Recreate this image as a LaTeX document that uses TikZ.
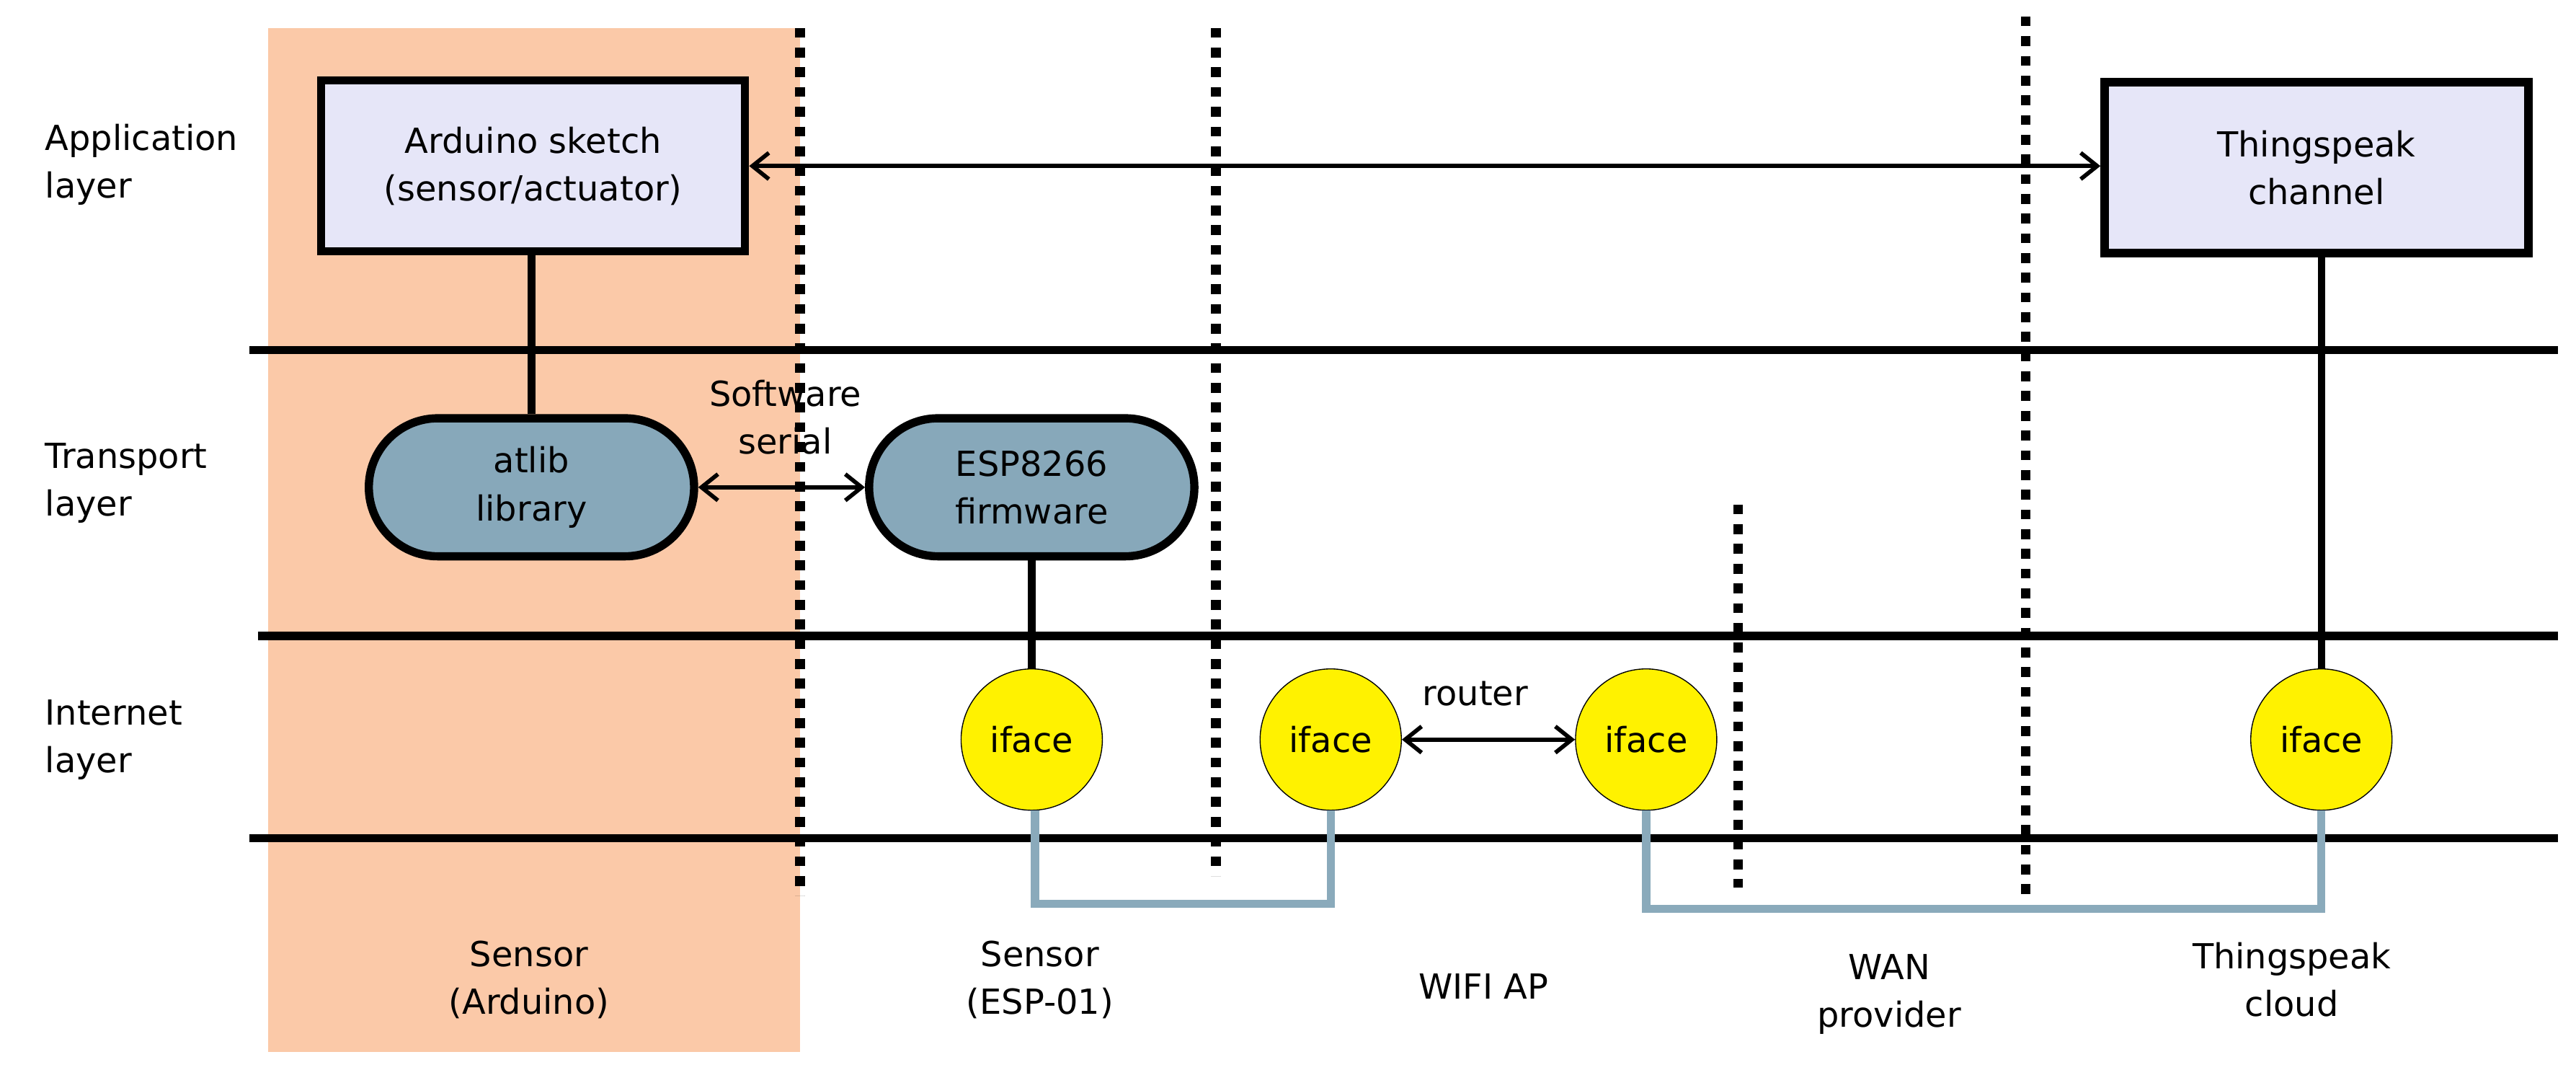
\documentclass[tikz,border=0pt]{standalone}
\usepackage{fontspec}
\setmainfont{DejaVu Sans}
\usetikzlibrary{arrows.meta}
\definecolor{peach}{HTML}{FBC9A8}
\definecolor{lav}{HTML}{E6E6F8}
\definecolor{pill}{HTML}{87A8BA}
\definecolor{wire}{HTML}{8AAABB}
\begin{document}
\begin{tikzpicture}[x=1pt,y=-1pt,font=\fontsize{21}{29}\selectfont,
  box/.style={draw,line width=5pt,fill=lav,minimum width=258pt,minimum height=104pt,align=center},
  pl/.style={draw,line width=5pt,fill=pill,rounded corners=42pt,minimum width=198pt,minimum height=84pt,align=center},
  ifc/.style={circle,draw,line width=0.6pt,fill=yellow,minimum size=86pt,inner sep=0pt},
  hl/.style={line width=5pt},
  dl/.style={line width=6pt,dash pattern=on 6pt off 6pt},
  con/.style={line width=4.5pt},
  ar/.style={line width=2.5pt,{Straight Barb[length=10pt,width=16pt]}-{Straight Barb[length=10pt,width=16pt]}},
  bw/.style={line width=5pt,color=wire},
  lbl/.style={align=center}]
\useasboundingbox (0,0) rectangle (1568,651);
\fill[peach] (163,17) rectangle (487,640);
\draw[hl] (152,213) -- (1557,213);
\draw[hl] (157,387) -- (1557,387);
\draw[hl] (152,510) -- (1557,510);
\draw[dl] (487,17) -- (487,545);
\draw[dl] (740,17) -- (740,533);
\draw[dl] (1058,307) -- (1058,540);
\draw[dl] (1233,10) -- (1233,545);
\node[box] (ard) at (324.5,101) {Arduino sketch\\(sensor/actuator)};
\node[box] (ts) at (1410,102) {Thingspeak\\channel};
\node[pl] (at) at (323.5,296.5) {atlib\\library};
\node[pl] (esp) at (628,296.5) {ESP8266\\firmware};
\node[ifc] (i1) at (628,450) {iface};
\node[ifc] (i2) at (810,450) {iface};
\node[ifc] (i3) at (1002,450) {iface};
\node[ifc] (i4) at (1413,450) {iface};
\draw[con] (ard.south -| at) -- (at.north);
\draw[con] (esp) -- (i1);
\draw[con] (ts.south -| i4) -- (i4);
\draw[ar] (ard.east) -- (ard.east -| ts.west);
\draw[ar] (at.east) -- (esp.west);
\draw[ar] (i2.east) -- (i3.west);
\coordinate (c1) at (630,550); \coordinate (c2) at (810,550);
\coordinate (c3) at (1002,553); \coordinate (c4) at (1413,553);
\draw[bw] (i1.south -| c1) -- (c1) -- (c2) -- (i2.south);
\draw[bw] (i3.south) -- (c3) -- (c4) -- (i4.south);
\node[anchor=west,align=left] (l1) at (24,100) {Application\\layer};
\node[anchor=west,align=left] (l2) at (24,294) {Transport\\layer};
\node[anchor=west,align=left] (l3) at (24,450) {Internet\\layer};
\node[lbl] (ss) at (478,254) {Software\\serial};
\node[lbl] (rt) at (898,422) {router};
\node[lbl] (b1) at (322,596) {Sensor\\(Arduino)};
\node[lbl] (b2) at (633,596) {Sensor\\(ESP-01)};
\node[lbl] (b3) at (903,600) {WIFI AP};
\node[lbl] (b4) at (1150,605) {WAN\\provider};
\node[lbl] (b5) at (1395,596) {Thingspeak\\cloud};
\end{tikzpicture}
\end{document}
